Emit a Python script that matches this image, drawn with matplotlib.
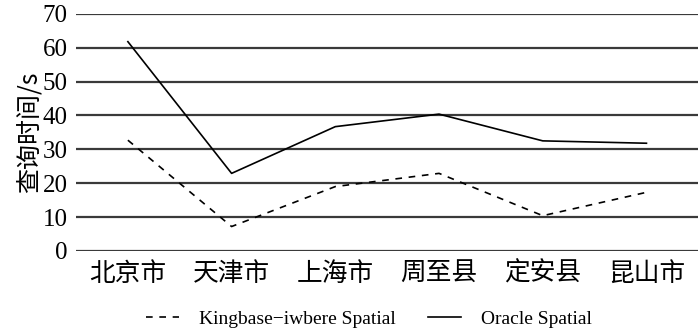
import matplotlib
matplotlib.use('Agg')
from matplotlib import pyplot as plt
import numpy as np

cities = ['北京市', '天津市', '上海市', '周至县', '定安县', '昆山市']
kingbase = [32.7, 7.2, 19.0, 22.9, 10.4, 17.3]
oracle = [61.8, 22.9, 36.7, 40.4, 32.5, 31.8]
yticks = [0, 10, 20, 30, 40, 50, 60, 70]

plt.rcParams['font.family'] = ['Liberation Serif', 'Noto Sans CJK SC']

fig = plt.figure(figsize=(7, 3.31), dpi=100)
ax = fig.add_axes([0.1086, 0.242, 0.889, 0.716])

x = np.arange(len(cities))
ax.plot(x, kingbase, color='black', lw=1.2, linestyle=(0, (4, 4)), label='Kingbase\u2212iwbere Spatial')
ax.plot(x, oracle, color='black', lw=1.2, label='Oracle Spatial')

ax.set_xlim(-0.5, len(cities) - 0.5)
ax.set_ylim(0, 70)
ax.set_yticks(yticks)
ax.set_yticklabels([str(t) for t in yticks], fontsize=18)
ax.set_xticks(x)
ax.set_xticklabels(cities, fontsize=18.5, family=['Noto Sans CJK SC'])
ax.tick_params(length=0, pad=6)
ax.tick_params(axis='x', pad=7)
for s in ax.spines.values():
    s.set_visible(False)
ax.grid(axis='y', color='#3a3a3a', lw=1.6)
ax.set_axisbelow(True)
ax.set_ylabel('查询时间/s', fontsize=18, family=['Noto Sans CJK SC', 'Liberation Serif'], labelpad=0)

fig.legend(loc='center', bbox_to_anchor=(0.527, 0.035), ncol=2, frameon=False,
           fontsize=14, handlelength=1.7, handletextpad=1.0, columnspacing=1.7)

fig.savefig('out.png', dpi=100)
